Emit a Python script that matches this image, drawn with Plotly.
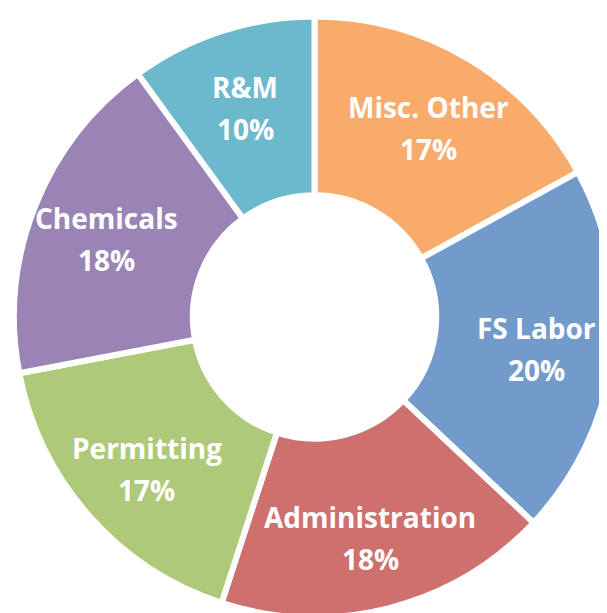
import math
import plotly.graph_objects as go

labels = ["Misc. Other", "FS Labor", "Administration", "Permitting", "Chemicals", "R&M"]
values = [17, 20, 18, 17, 18, 10]
colors = ["#F8AB6B", "#729BCC", "#CD706E", "#AFC97A", "#9A84B6", "#6CB9CD"]

W, H = 607, 613
ML, MR, MT, MB = 6, 0, 5, 0
dom_w, dom_h = W - ML - MR, H - MT - MB
R = min(dom_w, dom_h) / 2.0
label_frac = 0.745
line_gap = 21
base_shift = -4

fig = go.Figure(go.Pie(
    labels=labels,
    values=values,
    hole=0.405,
    sort=False,
    direction="clockwise",
    rotation=0,
    marker=dict(colors=colors, line=dict(color="white", width=6)),
    textinfo="none",
    showlegend=False,
    hoverinfo="label+percent",
))

total = sum(values)
cum = 0
font = dict(family="Open Sans, sans-serif", size=28, color="white")
for lab, v in zip(labels, values):
    mid = (cum + v / 2.0) / total * 2 * math.pi
    cum += v
    x = 0.5 + label_frac * R * math.sin(mid) / dom_w
    y = 0.5 + label_frac * R * math.cos(mid) / dom_h
    fig.add_annotation(
        x=x, y=y, xref="paper", yref="paper", yshift=base_shift + line_gap,
        text=f"<b>{lab}</b>", showarrow=False, font=font,
        xanchor="center", yanchor="middle",
    )
    fig.add_annotation(
        x=x, y=y, xref="paper", yref="paper", yshift=base_shift - line_gap,
        text=f"<b>{v}%</b>", showarrow=False, font=font,
        xanchor="center", yanchor="middle",
    )

fig.update_layout(
    width=W, height=H,
    margin=dict(l=ML, r=MR, t=MT, b=MB),
    paper_bgcolor="white",
    plot_bgcolor="white",
)

fig.write_html("out.html")
